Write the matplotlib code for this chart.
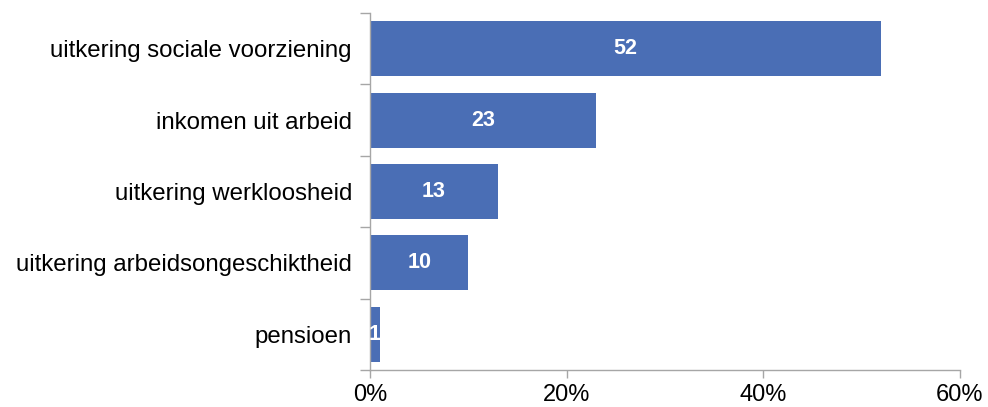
import matplotlib
matplotlib.use('Agg')
import matplotlib.pyplot as plt
from matplotlib.ticker import FuncFormatter

# Data
categories = ['uitkering sociale voorziening', 'inkomen uit arbeid',
              'uitkering werkloosheid', 'uitkering arbeidsongeschiktheid', 'pensioen']
values = [52, 23, 13, 10, 1]
xticks = [0, 20, 40, 60]

plt.rcParams['font.family'] = ['Liberation Sans', 'DejaVu Sans']

fig = plt.figure(figsize=(9.88, 4.07), dpi=100)
ax = fig.add_axes([0.3745, 0.091, 0.597, 0.877])

pos = list(range(len(categories)))
bars = ax.barh(pos, values, height=0.77, color='#4A6EB5')
ax.set_ylim(len(categories) - 0.5, -0.5)
ax.set_xlim(0, 60)

# value labels inside the bars
for b, v in zip(bars, values):
    ax.text(b.get_width() / 2, b.get_y() + b.get_height() / 2, str(v),
            color='white', fontweight='bold', fontsize=15.5, ha='center', va='center')

ax.set_yticks(pos)
ax.set_yticklabels(categories, fontsize=17.3)
ax.tick_params(axis='y', length=0, pad=13)
# boundary ticks between categories
ax.set_yticks([i - 0.5 for i in range(len(categories) + 1)], minor=True)
ax.tick_params(axis='y', which='minor', length=7, color='#A6A6A6', width=1)

ax.set_xticks(xticks)
ax.xaxis.set_major_formatter(FuncFormatter(lambda x, p: f'{int(x)}%'))
ax.tick_params(axis='x', labelsize=17, length=6, color='#A6A6A6', width=1, pad=4)

for s in ['top', 'right']:
    ax.spines[s].set_visible(False)
for s in ['left', 'bottom']:
    ax.spines[s].set_color('#A6A6A6')
    ax.spines[s].set_linewidth(1)

fig.savefig('out.png', dpi=100)
